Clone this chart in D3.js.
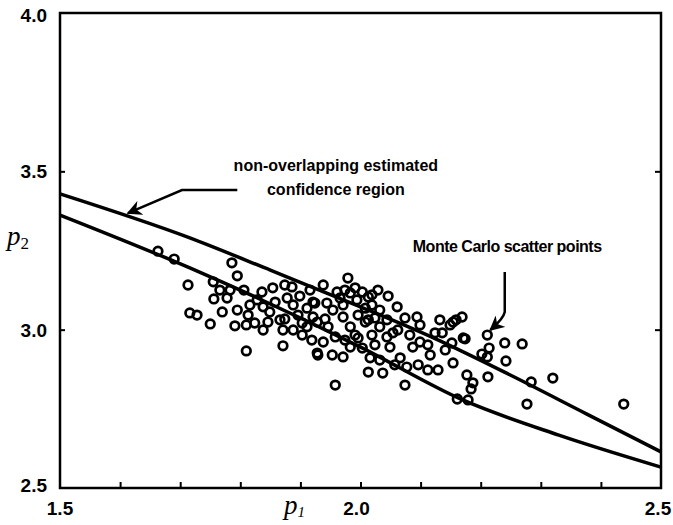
<!DOCTYPE html>
<html>
<head>
<meta charset="utf-8">
<script src="https://cdn.jsdelivr.net/npm/d3@7"></script>
<style>
  body { margin: 0; background: #fff; }
  .tick-label { font-family: 'Liberation Sans', Arial, sans-serif; font-weight: bold; font-size: 19px; fill: #000; }
  .note { font-family: 'Liberation Sans', Arial, sans-serif; font-weight: bold; font-size: 16px; fill: #000; }
  .axis-name { font-family: 'Liberation Serif', 'Times New Roman', serif; font-style: italic; fill: #000; }
</style>
</head>
<body>
<div class="root"></div>
<script>
// boundaries of the estimated confidence region
var upperP1 = [1.5, 1.716, 1.85, 2.0, 2.125, 2.25, 2.375, 2.5];
var upperP2 = [3.429, 3.290, 3.188, 3.072, 2.971, 2.856, 2.735, 2.614];
var lowerP1 = [1.5, 1.716, 2.0, 2.17, 2.33, 2.5];
var lowerP2 = [3.362, 3.195, 2.945, 2.778, 2.667, 2.566];

// Monte Carlo scatter points
var mcP1 = [1.663, 1.690, 1.786, 1.795, 1.713, 1.755, 1.756, 1.716, 1.728, 1.750,
  1.791, 1.810, 1.810, 1.871, 1.806, 1.836, 1.854, 1.874, 1.886, 1.878,
  1.888, 1.783, 1.766, 1.778, 1.795, 1.816, 1.828, 1.838, 1.849, 1.770,
  1.824, 1.838, 1.866, 1.871, 1.888, 1.903, 1.903, 1.919, 1.924, 1.921,
  1.928, 1.979, 1.938, 1.921, 1.911, 1.966, 1.994, 2.013, 1.954, 1.971,
  1.946, 1.928, 1.911, 1.958, 1.991, 2.008, 2.032, 2.061, 2.074, 2.094,
  2.032, 2.044, 2.054, 2.024, 2.003, 1.983, 1.929, 1.953, 1.971, 2.013,
  2.037, 2.066, 2.087, 2.099, 2.112, 2.077, 2.096, 2.112, 2.129, 2.152,
  2.171, 2.124, 2.136, 2.154, 2.169, 2.154, 2.177, 2.187, 2.074, 1.958,
  2.016, 2.049, 1.996, 1.983, 2.024, 2.044, 2.008, 1.971, 1.944, 2.174,
  2.211, 2.240, 2.269, 2.214, 2.202, 2.211, 2.242, 2.212, 2.184, 2.179,
  2.161, 2.284, 2.320, 2.277, 2.438, 1.961, 1.983, 2.003, 2.019, 2.149,
  2.159, 1.974, 1.991, 2.029, 2.046, 2.019, 1.996, 2.013, 2.062, 2.082,
  2.019, 1.974, 1.938, 1.896, 1.858, 1.846, 1.813, 1.899, 1.916, 2.099,
  2.116, 2.141, 2.057, 2.032, 2.132, 1.941, 1.874];
var mcP2 = [3.248, 3.223, 3.211, 3.170, 3.141, 3.151, 3.097, 3.053, 3.046, 3.018,
  3.012, 3.015, 2.933, 2.949, 3.125, 3.119, 3.132, 3.141, 3.135, 3.100,
  3.078, 3.125, 3.125, 3.100, 3.062, 3.078, 3.094, 3.072, 3.056, 3.056,
  3.021, 2.999, 3.031, 2.999, 2.999, 3.021, 2.983, 2.967, 3.084, 3.040,
  2.926, 3.163, 3.141, 3.087, 3.068, 3.100, 3.094, 3.103, 3.062, 3.040,
  3.009, 3.024, 3.009, 2.977, 2.983, 3.024, 3.062, 3.072, 3.037, 3.040,
  3.009, 2.977, 2.990, 2.952, 2.942, 2.945, 2.920, 2.920, 2.914, 2.866,
  2.863, 2.911, 2.945, 2.961, 2.952, 2.882, 2.889, 2.873, 2.873, 2.958,
  2.974, 2.990, 2.990, 3.024, 3.040, 2.895, 2.857, 2.832, 2.825, 2.825,
  2.911, 2.945, 2.974, 3.009, 3.037, 3.031, 3.068, 3.078, 3.084, 2.971,
  2.983, 2.958, 2.955, 2.942, 2.923, 2.914, 2.901, 2.851, 2.813, 2.778,
  2.781, 2.835, 2.847, 2.765, 2.765, 3.119, 3.116, 3.119, 3.110, 3.015,
  3.031, 3.125, 3.132, 3.125, 3.106, 3.078, 3.046, 3.031, 2.999, 2.983,
  2.983, 2.967, 2.961, 3.046, 3.087, 3.024, 3.046, 3.106, 3.125, 3.015,
  2.920, 2.936, 2.889, 2.904, 3.031, 3.034, 3.034];

var xTicks = [1.6, 1.7, 1.8, 1.9, 2.0, 2.1, 2.2, 2.3, 2.4];
var yTicks = [3.0, 3.5];
var xLabels = ['1.5', '2.0', '2.5'];
var yLabels = ['2.5', '3.0', '3.5', '4.0'];

function drawChart() {
  var w = 673, h = 525;
  var left = 60, right = 661, top = 13, bottom = 488;

  var svg = d3.select('.root').append('svg')
    .attr('width', w)
    .attr('height', h);

  var x = d3.scaleLinear().domain([1.5, 2.5]).range([left, right]);
  var y = d3.scaleLinear().domain([2.5, 4.0]).range([bottom, top]);

  // frame
  svg.append('rect')
    .attr('x', left).attr('y', top)
    .attr('width', right - left).attr('height', bottom - top)
    .attr('fill', 'none').attr('stroke', '#000').attr('stroke-width', 2.5);

  // inward ticks
  svg.append('g')
    .attr('transform', 'translate(0,' + bottom + ')')
    .call(d3.axisBottom(x).tickValues(xTicks).tickSizeInner(-6).tickSizeOuter(0).tickFormat(''))
    .call(function(g) { g.select('.domain').remove(); })
    .selectAll('line').attr('stroke-width', 2);

  svg.append('g')
    .attr('transform', 'translate(' + left + ',0)')
    .call(d3.axisLeft(y).tickValues(yTicks).tickSizeInner(-5).tickSizeOuter(0).tickFormat(''))
    .call(function(g) { g.select('.domain').remove(); })
    .selectAll('line').attr('stroke-width', 2);

  svg.append('g')
    .attr('transform', 'translate(' + right + ',0)')
    .call(d3.axisRight(y).tickValues(yTicks).tickSizeInner(-6).tickSizeOuter(0).tickFormat(''))
    .call(function(g) { g.select('.domain').remove(); })
    .selectAll('line').attr('stroke-width', 2);

  // tick labels
  svg.selectAll('.xlab')
    .data(xLabels)
    .enter().append('text')
      .attr('class', 'tick-label')
      .attr('x', function(d) { return x(+d) - (d === '2.0' ? 4 : (d === '2.5' ? 3 : 0)); })
      .attr('y', 515)
      .attr('text-anchor', 'middle')
      .text(function(d) { return d; });

  svg.selectAll('.ylab')
    .data(yLabels)
    .enter().append('text')
      .attr('class', 'tick-label')
      .attr('x', 47)
      .attr('y', function(d) { return y(+d) + 7 - (d === '2.5' ? 3 : 0) + (d === '4.0' ? 2 : 0); })
      .attr('text-anchor', 'end')
      .text(function(d) { return d; });

  // axis names
  var p1 = svg.append('text').attr('class', 'axis-name')
    .attr('x', 284).attr('y', 514).style('font-size', '27px');
  p1.append('tspan').text('p');
  p1.append('tspan').attr('dy', 3).style('font-size', '15px').text('1');

  var p2 = svg.append('text').attr('class', 'axis-name')
    .attr('x', 7).attr('y', 245).style('font-size', '27px');
  p2.append('tspan').text('p');
  p2.append('tspan').attr('dy', 4).style('font-size', '17px').style('font-style', 'normal').text('2');

  // region boundaries
  var line = d3.line()
    .x(function(d) { return x(d[0]); })
    .y(function(d) { return y(d[1]); })
    .curve(d3.curveMonotoneX);

  svg.append('path')
    .datum(d3.zip(upperP1, upperP2))
    .attr('d', line)
    .attr('fill', 'none').attr('stroke', '#000').attr('stroke-width', 3.5);

  svg.append('path')
    .datum(d3.zip(lowerP1, lowerP2))
    .attr('d', line)
    .attr('fill', 'none').attr('stroke', '#000').attr('stroke-width', 3.5);

  // scatter
  svg.append('g')
    .selectAll('circle')
    .data(d3.zip(mcP1, mcP2))
    .enter().append('circle')
      .attr('cx', function(d) { return x(d[0]); })
      .attr('cy', function(d) { return y(d[1]); })
      .attr('r', 4.3)
      .attr('fill', 'none')
      .attr('stroke', '#000')
      .attr('stroke-width', 2.7);

  // annotations
  svg.append('defs').append('marker')
    .attr('id', 'head')
    .attr('viewBox', '0 0 10 10')
    .attr('refX', 9).attr('refY', 5)
    .attr('markerWidth', 6).attr('markerHeight', 6)
    .attr('markerUnits', 'strokeWidth')
    .attr('orient', 'auto')
    .append('path').attr('d', 'M0,0 L10,5 L0,10 L3,5 Z').attr('fill', '#000');

  svg.append('text').attr('class', 'note')
    .attr('x', x(1.959)).attr('y', y(3.501))
    .attr('text-anchor', 'middle')
    .text('non-overlapping estimated');
  svg.append('text').attr('class', 'note')
    .attr('x', x(1.959)).attr('y', y(3.425))
    .attr('text-anchor', 'middle')
    .text('confidence region');

  svg.append('path')
    .attr('d', 'M' + x(1.795) + ',' + y(3.441) + 'L' + x(1.703) + ',' + y(3.441) + 'L' + x(1.613) + ',' + y(3.368))
    .attr('fill', 'none').attr('stroke', '#000').attr('stroke-width', 2.5)
    .attr('marker-end', 'url(#head)');

  svg.append('text').attr('class', 'note')
    .attr('x', x(2.087)).attr('y', y(3.245))
    .style('letter-spacing', '-0.5px')
    .text('Monte Carlo scatter points');

  svg.append('path')
    .attr('d', 'M' + x(2.240) + ',' + y(3.182) + 'L' + x(2.240) + ',' + y(3.056) + 'Q' + x(2.238) + ',' + y(3.035) + ' ' + x(2.216) + ',' + y(2.999))
    .attr('fill', 'none').attr('stroke', '#000').attr('stroke-width', 2.5)
    .attr('marker-end', 'url(#head)');
}

window.onload = function() {
  drawChart();
};
</script>
</body>
</html>
